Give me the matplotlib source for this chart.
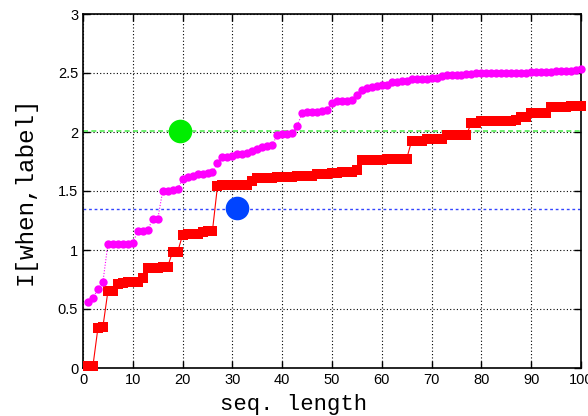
import matplotlib
matplotlib.use("Agg")
import matplotlib.pyplot as plt

# sequence lengths 1..100
seq_len = list(range(1, 101))

# magenta curve (circles)
info_a = [0.56, 0.59, 0.67, 0.73, 1.05, 1.05, 1.05, 1.05, 1.05, 1.06,
          1.16, 1.16, 1.17, 1.26, 1.26, 1.50, 1.50, 1.51, 1.52, 1.60,
          1.62, 1.63, 1.64, 1.645, 1.65, 1.66, 1.735, 1.79, 1.79, 1.80,
          1.81, 1.81, 1.82, 1.84, 1.86, 1.87, 1.88, 1.89, 1.975, 1.98,
          1.98, 1.99, 2.05, 2.16, 2.17, 2.17, 2.17, 2.18, 2.19, 2.25,
          2.26, 2.26, 2.26, 2.27, 2.31, 2.36, 2.37, 2.385, 2.39, 2.395,
          2.40, 2.42, 2.425, 2.43, 2.43, 2.445, 2.45, 2.45, 2.45, 2.455,
          2.455, 2.475, 2.48, 2.48, 2.485, 2.485, 2.49, 2.49, 2.497, 2.497,
          2.497, 2.498, 2.498, 2.498, 2.50, 2.50, 2.50, 2.50, 2.50, 2.505,
          2.505, 2.51, 2.51, 2.51, 2.515, 2.515, 2.52, 2.52, 2.525, 2.53]

# red curve (squares)
info_b = [0.02, 0.02, 0.34, 0.35, 0.65, 0.65, 0.71, 0.72, 0.73, 0.73,
          0.73, 0.765, 0.85, 0.85, 0.85, 0.86, 0.86, 0.985, 0.985, 1.127,
          1.135, 1.135, 1.135, 1.15, 1.165, 1.165, 1.54, 1.55, 1.55, 1.55,
          1.55, 1.55, 1.55, 1.585, 1.61, 1.61, 1.61, 1.61, 1.62, 1.62,
          1.62, 1.62, 1.63, 1.63, 1.63, 1.63, 1.64, 1.64, 1.64, 1.65,
          1.65, 1.66, 1.66, 1.66, 1.68, 1.76, 1.76, 1.76, 1.76, 1.76,
          1.775, 1.775, 1.775, 1.775, 1.775, 1.925, 1.925, 1.925, 1.94, 1.94,
          1.94, 1.94, 1.975, 1.975, 1.975, 1.975, 1.975, 2.08, 2.08, 2.09,
          2.09, 2.095, 2.095, 2.095, 2.095, 2.095, 2.105, 2.13, 2.13, 2.16,
          2.16, 2.16, 2.16, 2.215, 2.215, 2.215, 2.215, 2.22, 2.22, 2.22]

green_level = 2.01
blue_level = 1.35
green_pt = (19.5, 2.01)
blue_pt = (31, 1.36)

xticks = list(range(0, 101, 10))
yticks = [0, 0.5, 1, 1.5, 2, 2.5, 3]
ytick_labels = ["0", "0.5", "1", "1.5", "2", "2.5", "3"]

fig = plt.figure(figsize=(5.88, 4.16), dpi=100)
ax = fig.add_axes([83 / 588, 48 / 416, 498 / 588, 354 / 416])

ax.grid(True, color="black", linestyle=(0, (1, 2)), linewidth=0.8)
ax.set_axisbelow(True)

ax.plot([0, 100], [green_level, green_level], color="#55ee55",
        linestyle=(0, (3, 2)), linewidth=1.2, zorder=2)
ax.plot([0, 100], [blue_level, blue_level], color="#3344ff",
        linestyle=(0, (2, 2)), linewidth=1.0, zorder=2)

ax.plot(seq_len, info_b, color="#ff0000", linewidth=0.8, marker="s",
        markersize=7.5, markeredgewidth=0, clip_on=False, zorder=3)
ax.plot(seq_len, info_a, color="#ff00ff", linewidth=0.8, linestyle=(0, (1, 1.5)),
        marker="o", markersize=6, markeredgewidth=0, clip_on=False, zorder=4)

ax.plot([green_pt[0]], [green_pt[1]], marker="o", color="#00ee00",
        markersize=17, markeredgewidth=0, zorder=5)
ax.plot([blue_pt[0]], [blue_pt[1]], marker="o", color="#0044ff",
        markersize=17, markeredgewidth=0, zorder=5)

ax.set_xlim(0, 100)
ax.set_ylim(0, 3)
ax.set_xticks(xticks)
ax.set_yticks(yticks)
ax.set_yticklabels(ytick_labels)
ax.tick_params(direction="in", top=True, right=True, length=5, width=1,
               labelsize=10.5)
for lab in ax.get_xticklabels() + ax.get_yticklabels():
    lab.set_family("Liberation Sans")
for sp in ax.spines.values():
    sp.set_linewidth(1.2)

# labels placed like the gnuplot original (x label left of centre, cut at bottom)
ax.set_xlabel("seq. length", family="Liberation Mono", fontsize=16,
              va="baseline", ha="center")
ax.xaxis.set_label_coords((294 - 83) / 498, -42 / 354)
ax.set_ylabel("I[when,label]", family="Liberation Mono", fontsize=17.5,
              va="center", ha="center")
ax.yaxis.set_label_coords((25 - 83) / 498, 0.5)

fig.savefig("out.png", dpi=100)
